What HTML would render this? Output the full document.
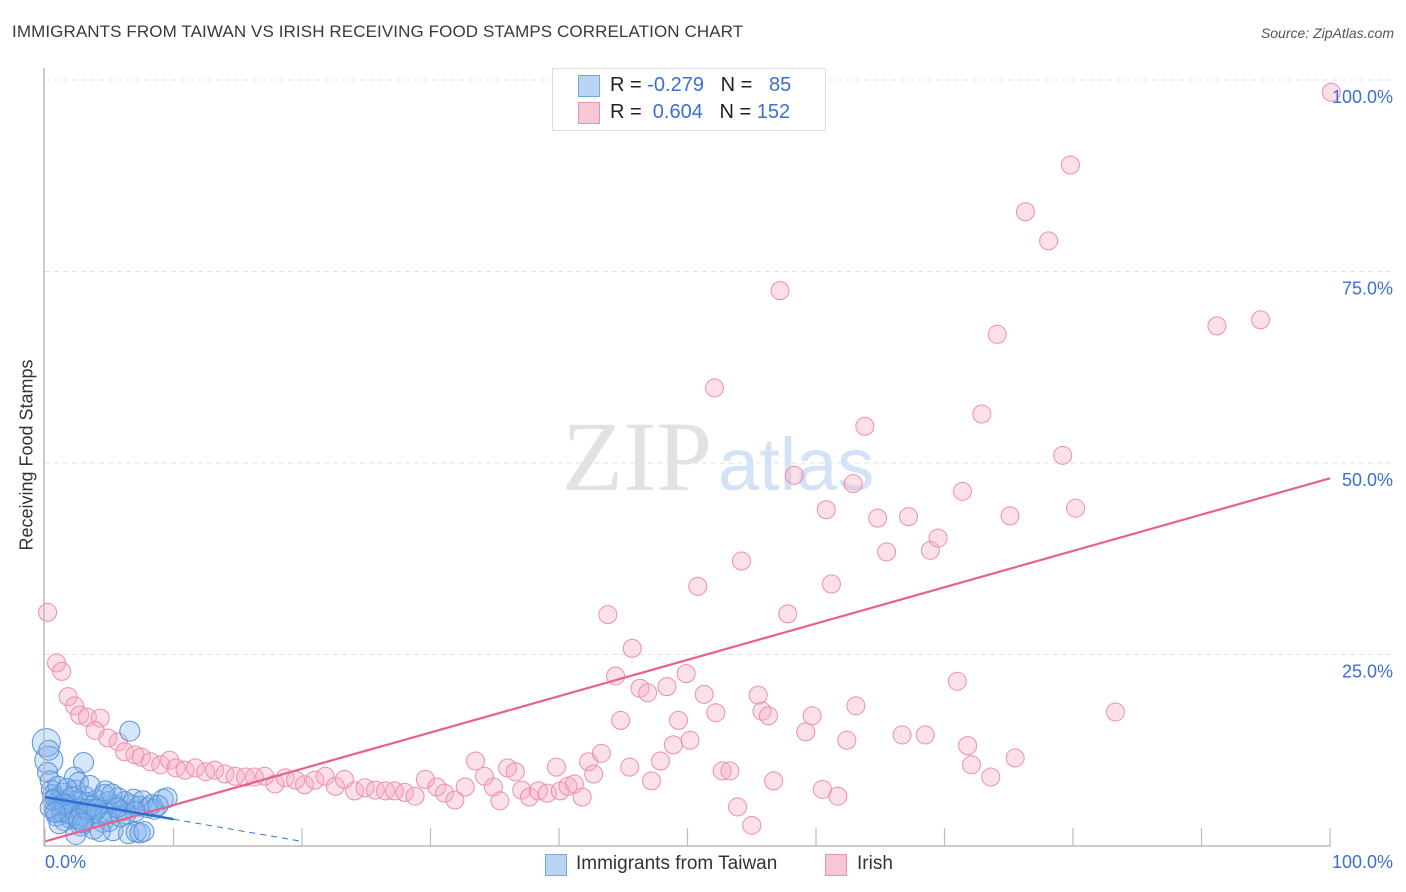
<!DOCTYPE html>
<html><head><meta charset="utf-8">
<style>
html,body{margin:0;padding:0;background:#fff;}
body{width:1406px;height:892px;position:relative;overflow:hidden;font-family:"Liberation Sans",sans-serif;}
.abs{position:absolute;white-space:nowrap;}
</style></head>
<body>
<div class="abs" style="left:12px;top:22px;font-size:17px;color:#3a3a3a;letter-spacing:0.1px;">IMMIGRANTS FROM TAIWAN VS IRISH RECEIVING FOOD STAMPS CORRELATION CHART</div>
<div class="abs" style="right:12px;top:25px;font-size:14px;color:#555;font-style:italic;">Source: ZipAtlas.com</div>
<svg id="chart" width="1406" height="892" style="position:absolute;left:0;top:0;">
<g id="grid"></g>
<text x="712" y="490" font-family="Liberation Serif,serif" font-size="100" fill="#e2e2e2" text-anchor="end">ZIP</text>
<text x="718" y="490" font-family="Liberation Sans,sans-serif" font-size="74" fill="#d3e2f5">atlas</text>
<g id="pts"></g>
<g id="lines"></g>
<g id="axes"></g>
</svg>
<div class="abs" style="left:552px;top:68px;width:272px;height:61px;border:1px solid #ddd;background:#fff;"></div>
<div class="abs" style="left:578px;top:75px;width:20px;height:20px;background:#b9d3f3;border:1px solid #7aa6df;"></div>
<div class="abs" style="left:610px;top:74px;font-size:20px;color:#222;">R = <span style="color:#3b6fd1">-0.279</span>&nbsp;&nbsp;&nbsp;N = &nbsp;&nbsp;<span style="color:#3b6fd1">85</span></div>
<div class="abs" style="left:578px;top:102px;width:20px;height:20px;background:#f8c7d5;border:1px solid #e993ae;"></div>
<div class="abs" style="left:610px;top:101px;font-size:20px;color:#222;">R = &nbsp;<span style="color:#3b6fd1">0.604</span>&nbsp;&nbsp;&nbsp;N = <span style="color:#3b6fd1">152</span></div>
<div class="abs" style="left:27px;top:455px;font-size:18px;color:#333;transform:translate(-50%,-50%) rotate(-90deg);">Receiving Food Stamps</div>
<div class="abs" style="left:45px;top:852px;font-size:18px;color:#3b6fd1;">0.0%</div>
<div class="abs" style="right:13px;top:852px;font-size:18px;color:#3b6fd1;">100.0%</div>
<div class="abs" style="left:545px;top:854px;width:20px;height:20px;background:#b9d3f3;border:1px solid #7aa6df;"></div>
<div class="abs" style="left:576px;top:853px;font-size:19px;color:#333;">Immigrants from Taiwan</div>
<div class="abs" style="left:825px;top:854px;width:20px;height:20px;background:#f8c7d5;border:1px solid #e993ae;"></div>
<div class="abs" style="left:857px;top:853px;font-size:19px;color:#333;">Irish</div>
<script>
const yTicks=[25,50,75,100];
const yTickLabels=["25.0%","50.0%","75.0%","100.0%"];
const xTicks=[0,10,20,30,40,50,60,70,80,90,100];
const irishX=[0.2,0.9,1.3,1.8,2.3,2.7,3.3,4.3,3.9,4.9,5.7,6.2,7.0,7.5,8.2,9.0,9.7,10.2,10.9,11.7,12.5,13.2,14.0,14.8,15.6,16.3,17.1,17.9,18.7,19.5,20.2,21.0,21.8,22.6,23.3,24.1,24.9,25.7,26.5,27.2,28.0,28.8,29.6,30.5,31.1,31.9,32.7,33.5,34.2,34.9,35.4,36.0,36.6,37.1,37.7,38.4,39.1,39.8,40.1,40.7,41.2,41.8,42.3,42.7,43.3,43.8,44.4,44.8,45.5,45.7,46.3,46.9,47.2,47.9,48.4,48.9,49.3,49.9,50.2,50.8,51.3,52.1,52.2,52.7,53.3,53.9,54.2,55.0,55.5,55.8,56.3,56.7,57.2,57.8,58.3,59.2,59.7,60.5,60.8,61.2,61.7,62.4,62.9,63.1,63.8,64.8,65.5,66.7,67.2,68.5,68.9,69.5,71.0,71.4,71.8,72.1,72.9,73.6,74.1,75.1,75.5,76.3,78.1,79.2,79.8,80.2,83.3,91.2,94.6,100.1];
const irishY=[30.5,23.9,22.8,19.5,18.3,17.1,16.8,16.7,15.1,14.1,13.6,12.3,11.9,11.6,11.0,10.6,11.2,10.2,9.9,10.2,9.7,9.9,9.4,9.1,9.0,9.0,9.1,8.1,8.9,8.6,8.0,8.6,9.1,7.8,8.7,7.2,7.6,7.3,7.2,7.2,7.0,6.5,8.7,7.7,6.9,6.0,7.7,11.1,9.1,7.7,5.9,10.2,9.7,7.3,6.4,7.2,6.9,10.3,7.2,7.8,8.1,6.4,11.0,9.4,12.1,30.2,22.2,16.4,10.3,25.8,20.6,20.0,8.5,11.1,20.8,13.2,16.4,22.5,13.8,33.9,19.8,59.8,17.4,9.8,9.8,5.1,37.2,2.7,19.7,17.6,17.0,8.5,72.5,30.3,48.4,14.9,17.0,7.4,43.9,34.2,6.5,13.8,47.3,18.3,54.8,42.8,38.4,14.5,43.0,14.5,38.6,40.2,21.5,46.3,13.1,10.6,56.4,9.0,66.8,43.1,11.5,82.8,79.0,51.0,88.9,44.1,17.5,67.9,68.7,98.4];
const taiwanX=[0.1,0.3,0.2,0.4,0.5,0.6,0.8,1.0,1.2,0.7,1.4,1.6,1.8,2.0,2.2,2.4,2.5,2.7,2.9,3.0,3.1,3.3,3.4,3.6,3.8,2.3,2.6,3.0,4.0,4.1,4.3,4.5,4.7,4.9,5.1,5.3,5.5,5.7,6.0,6.2,6.5,6.7,6.9,7.1,7.3,7.4,7.6,7.7,8.0,8.3,8.5,9.2,9.5,6.6,1.5,2.0,1.0,1.3,0.9,3.5,5.0,6.3,2.8,4.3,5.9,0.4,1.7,2.1,3.7,4.6,5.2,7.0,8.8,1.1,2.4,0.3,0.6,1.9,2.6,3.2,1.5,0.8,2.9,4.0,5.6];
const taiwanY=[13.5,11.2,9.6,8.5,7.3,6.7,6.2,5.8,5.2,4.7,6.9,6.0,5.5,4.9,4.3,7.3,5.9,5.0,4.0,3.3,6.5,5.7,4.6,3.6,2.2,9.0,8.3,10.9,6.0,5.1,4.2,3.1,7.2,5.8,4.5,2.0,5.3,6.3,4.6,5.8,1.6,5.4,6.1,1.8,5.2,1.7,5.9,1.9,5.0,5.4,4.8,6.1,6.3,15.0,3.3,3.6,7.8,4.4,3.9,7.9,3.2,4.2,2.6,1.9,3.8,5.0,7.5,6.4,5.2,6.7,6.8,4.5,5.3,2.9,1.5,12.5,6.0,4.2,3.5,4.8,5.5,4.4,3.0,4.8,5.0];
const irishFit=[0.6,48.0];   // y at x=0, x=100
const taiwanFit=[6.4,3.5];   // y at x=0, x=10
const NS="http://www.w3.org/2000/svg";
const X0=45,X1=1330,Y0=846,Y100=80;
function sx(v){return X0+(X1-X0)*v/100;}
function sy(v){return Y0-(Y0-Y100)*v/100;}
function mk(tag,attrs,parent){const e=document.createElementNS(NS,tag);for(const k in attrs)e.setAttribute(k,attrs[k]);parent.appendChild(e);return e;}
const grid=document.getElementById('grid'),axes=document.getElementById('axes'),pts=document.getElementById('pts'),lines=document.getElementById('lines');
yTicks.forEach((t,i)=>{
  const l=mk('line',{x1:X0,x2:1395,y1:sy(t),y2:sy(t),stroke:'#e2e2e2','stroke-dasharray':'5,4'},grid);
  
  
  const tx=mk('text',{x:1393,y:sy(t)+23,'text-anchor':'end','font-size':18,fill:'#3b6fd1','font-family':'Liberation Sans,sans-serif'},axes);
  tx.textContent=yTickLabels[i];
  
  
});
const ax=mk('line',{x1:X0-1,x2:X0-1,y1:68,y2:Y0,stroke:'#bbb','stroke-width':1.5},axes);


const bx=mk('line',{x1:X0-1,x2:X1+1,y1:Y0,y2:Y0,stroke:'#bbb','stroke-width':1.5},axes);


xTicks.forEach(t=>{
  const l=mk('line',{x1:sx(t),x2:sx(t),y1:Y0-18,y2:Y0,stroke:'#bbb','stroke-width':1.2},axes);
  
  
});
irishX.forEach((x,i)=>{
  const c=mk('circle',{cx:sx(x),cy:sy(irishY[i]),r:9,fill:'rgba(246,168,192,0.36)',stroke:'#ec8fac','stroke-width':1},pts);
  
  
});
taiwanX.forEach((x,i)=>{
  const c=mk('circle',{cx:sx(x),cy:sy(taiwanY[i]),r:i<2?14:10,fill:'rgba(128,176,235,0.32)',stroke:'#5a93da','stroke-width':1},pts);
  
  
});
const pl=mk('line',{x1:sx(0),y1:sy(irishFit[0]),x2:sx(100),y2:sy(irishFit[1]),stroke:'#e6628c','stroke-width':2.2},lines);


const slope=(taiwanFit[1]-taiwanFit[0])/10;
const bl=mk('line',{x1:sx(0),y1:sy(taiwanFit[0]),x2:sx(10),y2:sy(taiwanFit[1]),stroke:'#2a6fd0','stroke-width':2.5},lines);


const bd=mk('line',{x1:sx(10),y1:sy(taiwanFit[1]),x2:sx(20),y2:sy(taiwanFit[0]+slope*20),stroke:'#2a6fd0','stroke-width':1,'stroke-dasharray':'6,5'},lines);


</script>
</body></html>
